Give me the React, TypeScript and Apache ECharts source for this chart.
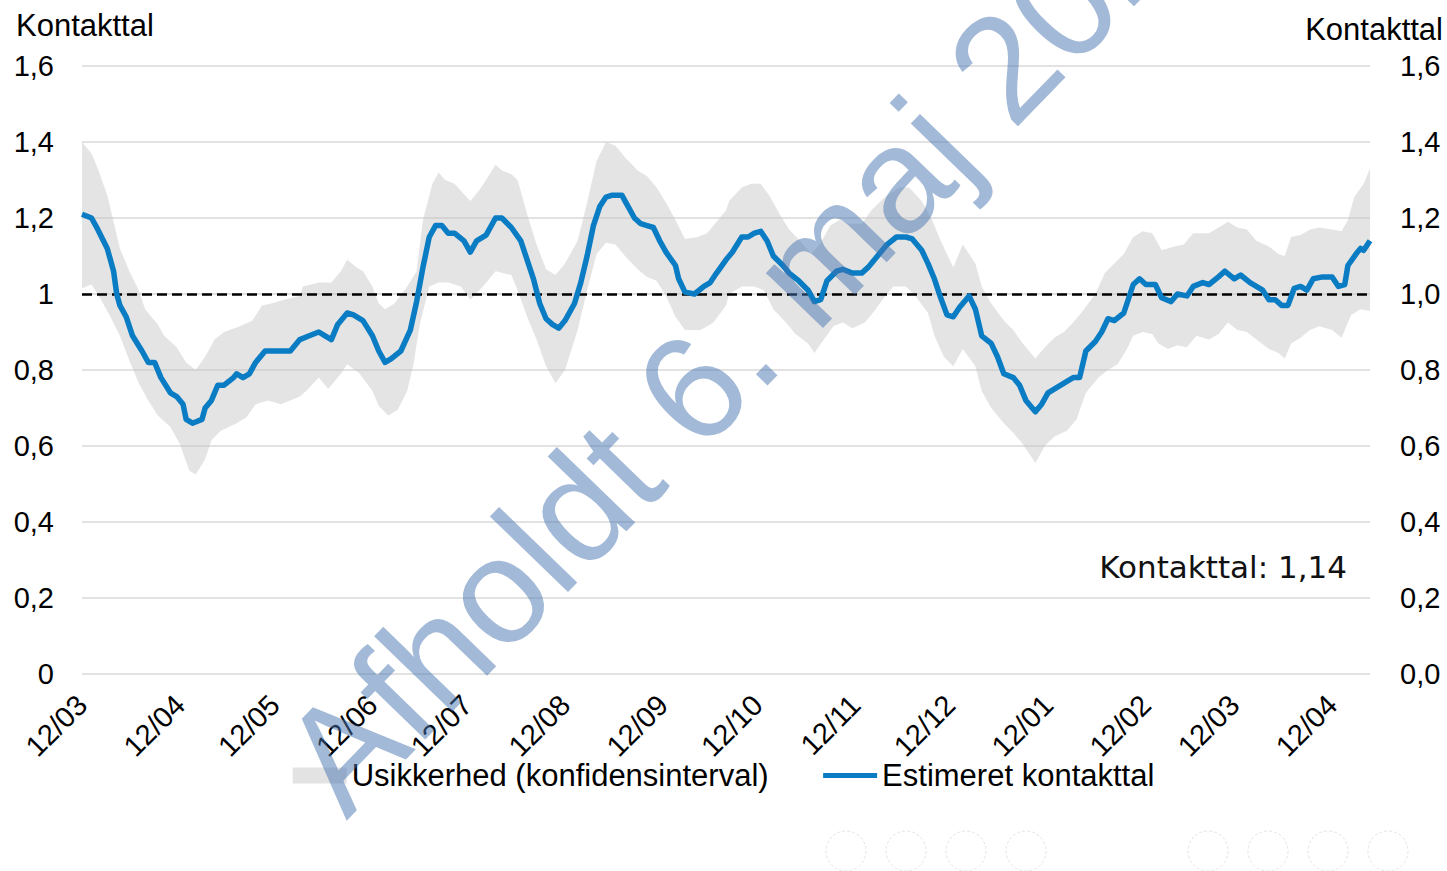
import React, { useEffect, useRef } from "react";
import * as echarts from "echarts";

// X positions are days counted from 12 March 2020
const tickDays = [0, 31, 61, 92, 122, 153, 184, 214, 245, 275, 306, 337, 365, 396];
const tickLabels = ["12/03", "12/04", "12/05", "12/06", "12/07", "12/08", "12/09", "12/10", "12/11", "12/12", "12/01", "12/02", "12/03", "12/04"];
const lastDay = 408;

const estimate: [number, number][] = [
  [0, 1.21], [3, 1.2], [5, 1.17], [8, 1.12], [10, 1.06], [11, 1.0], [12, 0.97], [14, 0.94], [16, 0.89], [19, 0.85],
  [21, 0.82], [23, 0.82], [25, 0.78], [28, 0.74], [30, 0.73], [32, 0.71], [33, 0.67], [35, 0.66], [38, 0.67], [39, 0.7],
  [41, 0.72], [43, 0.76], [45, 0.76], [48, 0.78], [49, 0.79], [51, 0.78], [53, 0.79], [55, 0.82], [58, 0.85], [62, 0.85],
  [66, 0.85], [69, 0.88], [72, 0.89], [75, 0.9], [77, 0.89], [79, 0.88], [81, 0.92], [84, 0.95], [86, 0.945], [89, 0.93],
  [92, 0.89], [94, 0.85], [96, 0.82], [98, 0.83], [101, 0.85], [104, 0.905], [106, 0.98], [108, 1.07], [110, 1.15], [112, 1.18],
  [114, 1.18], [116, 1.16], [118, 1.16], [121, 1.14], [123, 1.11], [125, 1.14], [128, 1.155], [131, 1.2], [133, 1.2], [136, 1.175],
  [139, 1.14], [141, 1.09], [143, 1.04], [145, 0.975], [147, 0.935], [149, 0.92], [151, 0.91], [153, 0.93], [156, 0.975], [158, 1.03],
  [160, 1.1], [162, 1.18], [164, 1.23], [166, 1.255], [168, 1.26], [171, 1.26], [173, 1.23], [175, 1.2], [177, 1.185], [179, 1.18],
  [181, 1.175], [183, 1.14], [185, 1.11], [188, 1.075], [189, 1.04], [191, 1.005], [194, 1.0], [197, 1.02], [199, 1.03], [201, 1.055],
  [204, 1.09], [206, 1.11], [209, 1.15], [211, 1.15], [213, 1.16], [215, 1.165], [217, 1.14], [219, 1.1], [222, 1.075], [224, 1.055],
  [227, 1.035], [230, 1.01], [232, 0.98], [234, 0.985], [236, 1.035], [239, 1.06], [241, 1.065], [244, 1.055], [247, 1.055], [249, 1.07],
  [252, 1.1], [255, 1.13], [258, 1.15], [261, 1.15], [263, 1.145], [266, 1.115], [268, 1.08], [270, 1.04], [272, 0.99], [274, 0.945],
  [276, 0.94], [278, 0.965], [281, 0.995], [283, 0.96], [285, 0.89], [288, 0.87], [290, 0.835], [292, 0.79], [295, 0.78], [297, 0.76],
  [299, 0.72], [302, 0.69], [304, 0.71], [306, 0.74], [309, 0.755], [312, 0.77], [314, 0.78], [316, 0.78], [318, 0.85], [321, 0.875],
  [323, 0.9], [325, 0.935], [327, 0.93], [330, 0.95], [332, 1.0], [333, 1.025], [335, 1.04], [337, 1.025], [340, 1.025], [342, 0.99],
  [345, 0.98], [347, 1.0], [350, 0.995], [352, 1.02], [355, 1.03], [357, 1.025], [360, 1.045], [362, 1.06], [365, 1.04], [367, 1.05],
  [370, 1.03], [372, 1.02], [374, 1.01], [376, 0.985], [378, 0.985], [380, 0.97], [382, 0.97], [384, 1.015], [386, 1.02], [388, 1.01],
  [390, 1.04], [393, 1.045], [396, 1.045], [398, 1.02], [400, 1.025], [401, 1.075], [404, 1.11], [405, 1.12], [406, 1.115], [408, 1.14],
];

const upperBand: [number, number][] = [
  [0, 1.4], [3, 1.37], [5, 1.33], [8, 1.26], [10, 1.19], [12, 1.12], [15, 1.06], [18, 1.01], [20, 0.96], [24, 0.92],
  [26, 0.89], [30, 0.86], [33, 0.82], [36, 0.8], [39, 0.835], [42, 0.88], [45, 0.9], [50, 0.915], [54, 0.93], [57, 0.97],
  [60, 0.975], [64, 0.985], [69, 0.995], [70, 1.02], [75, 1.03], [79, 1.03], [82, 1.06], [84, 1.09], [87, 1.07], [89, 1.06],
  [92, 1.02], [94, 0.975], [96, 0.96], [99, 0.975], [103, 1.02], [106, 1.06], [108, 1.195], [111, 1.29], [113, 1.32], [115, 1.3],
  [118, 1.29], [123, 1.245], [126, 1.275], [128, 1.3], [131, 1.34], [133, 1.325], [136, 1.315], [138, 1.3], [141, 1.21], [144, 1.13],
  [147, 1.065], [150, 1.05], [153, 1.08], [157, 1.14], [160, 1.24], [163, 1.35], [166, 1.4], [169, 1.39], [172, 1.36], [176, 1.325],
  [179, 1.31], [182, 1.28], [185, 1.24], [188, 1.195], [191, 1.145], [195, 1.15], [198, 1.16], [201, 1.19], [204, 1.22], [205, 1.245],
  [209, 1.28], [212, 1.29], [215, 1.29], [218, 1.255], [221, 1.21], [224, 1.17], [228, 1.135], [231, 1.105], [234, 1.135], [237, 1.18],
  [240, 1.195], [243, 1.185], [247, 1.185], [250, 1.22], [253, 1.245], [256, 1.265], [259, 1.28], [262, 1.28], [266, 1.245], [269, 1.2],
  [272, 1.14], [276, 1.07], [279, 1.13], [283, 1.08], [285, 1.02], [288, 0.975], [292, 0.93], [295, 0.905], [298, 0.87], [302, 0.83],
  [305, 0.86], [308, 0.885], [311, 0.9], [314, 0.925], [317, 0.955], [321, 1.0], [324, 1.055], [327, 1.08], [330, 1.105], [333, 1.15],
  [336, 1.165], [339, 1.16], [342, 1.115], [346, 1.125], [349, 1.13], [352, 1.16], [357, 1.16], [360, 1.175], [363, 1.19], [366, 1.175],
  [369, 1.17], [372, 1.14], [376, 1.125], [379, 1.105], [381, 1.1], [383, 1.15], [386, 1.155], [389, 1.17], [392, 1.175], [396, 1.17],
  [399, 1.165], [401, 1.195], [403, 1.255], [406, 1.29], [408, 1.33],
];

const lowerBand: [number, number][] = [
  [0, 1.015], [3, 1.025], [5, 1.0], [9, 0.94], [12, 0.89], [15, 0.825], [18, 0.765], [21, 0.72], [24, 0.68], [28, 0.65],
  [31, 0.605], [34, 0.535], [36, 0.525], [39, 0.565], [41, 0.615], [44, 0.64], [49, 0.66], [52, 0.675], [55, 0.71], [59, 0.72],
  [63, 0.71], [69, 0.73], [71, 0.745], [75, 0.78], [78, 0.75], [82, 0.79], [84, 0.815], [88, 0.79], [92, 0.745], [94, 0.705],
  [97, 0.68], [100, 0.695], [103, 0.745], [105, 0.815], [107, 0.92], [110, 1.02], [113, 1.03], [116, 1.03], [120, 1.02], [123, 0.985],
  [127, 1.02], [131, 1.06], [136, 1.05], [138, 1.01], [141, 0.94], [144, 0.88], [147, 0.81], [150, 0.765], [153, 0.8], [157, 0.905],
  [160, 1.01], [163, 1.105], [166, 1.135], [169, 1.13], [172, 1.1], [176, 1.065], [179, 1.045], [182, 1.035], [185, 0.995], [188, 0.94],
  [191, 0.905], [196, 0.905], [200, 0.925], [204, 0.97], [205, 1.0], [209, 1.02], [213, 1.02], [216, 1.01], [219, 0.96], [223, 0.925],
  [226, 0.895], [230, 0.87], [232, 0.845], [235, 0.88], [238, 0.915], [241, 0.925], [244, 0.91], [248, 0.925], [251, 0.955], [254, 0.99],
  [257, 1.02], [261, 1.02], [264, 0.995], [268, 0.95], [270, 0.89], [273, 0.835], [276, 0.81], [279, 0.855], [283, 0.81], [285, 0.745],
  [288, 0.7], [292, 0.66], [295, 0.635], [298, 0.605], [302, 0.555], [305, 0.6], [308, 0.625], [312, 0.64], [315, 0.67], [318, 0.74],
  [322, 0.78], [325, 0.8], [328, 0.815], [331, 0.855], [333, 0.89], [336, 0.9], [339, 0.895], [341, 0.87], [344, 0.855], [347, 0.865],
  [350, 0.86], [353, 0.89], [357, 0.88], [360, 0.895], [363, 0.925], [366, 0.905], [369, 0.9], [372, 0.88], [376, 0.855], [379, 0.845],
  [381, 0.83], [383, 0.87], [386, 0.885], [389, 0.905], [392, 0.915], [396, 0.905], [399, 0.885], [402, 0.945], [405, 0.96], [408, 0.955],
];

const thresholdValue = 1;
const axisTitle = "Kontakttal";
const bandName = "Usikkerhed (konfidensinterval)";
const lineName = "Estimeret kontakttal";
const currentNote = "Kontakttal: 1,14";
const watermarkText = "Afholdt 6. maj 2021";

const FONT = "'Liberation Sans', Arial, sans-serif";
const LINE_COLOR = "#0a7cc3";
const BAND_COLOR = "rgba(195,195,195,0.45)";

const decoCircles = [846, 906, 966, 1026, 1208, 1268, 1328, 1388];

export default function App() {
  const ref = useRef<HTMLDivElement>(null);

  useEffect(() => {
    document.body.style.margin = "0";
    const chart = echarts.init(ref.current!, null, { renderer: "svg" });
    const rot = (46 * Math.PI) / 180;

    const option: any = {
      animation: false,
      backgroundColor: "#ffffff",
      grid: { left: 82, right: 77, top: 66, bottom: 197 },
      legend: {
        top: 755,
        left: "center",
        itemWidth: 54,
        itemHeight: 16,
        itemGap: 52,
        textStyle: { fontFamily: FONT, fontSize: 31, color: "#000" },
        data: [
          { name: bandName, icon: "rect", itemStyle: { color: "#e3e3e3" } },
          { name: lineName, itemStyle: { opacity: 0 }, lineStyle: { width: 5, color: LINE_COLOR } },
        ],
      },
      xAxis: {
        type: "value",
        min: 0,
        max: lastDay,
        splitLine: { show: false },
        axisLine: { show: false },
        axisTick: { show: false },
        axisLabel: {
          customValues: tickDays,
          rotate: 45,
          margin: 26,
          fontFamily: FONT,
          fontSize: 29,
          color: "#000",
          showMinLabel: true,
          showMaxLabel: true,
          formatter: (v: number) => {
            const i = tickDays.indexOf(Math.round(v));
            return i >= 0 ? tickLabels[i] : "";
          },
        },
      },
      yAxis: [
        {
          type: "value",
          min: 0,
          max: 1.6,
          interval: 0.2,
          axisLine: { show: false },
          axisTick: { show: false },
          splitLine: { lineStyle: { color: "#d9d9d9", width: 1.5 } },
          axisLabel: {
            margin: 28,
            fontFamily: FONT,
            fontSize: 29,
            color: "#000",
            formatter: (v: number) => String(Math.round(v * 10) / 10).replace(".", ","),
          },
        },
        {
          type: "value",
          min: 0,
          max: 1.6,
          interval: 0.2,
          position: "right",
          axisLine: { show: false },
          axisTick: { show: false },
          splitLine: { show: false },
          axisLabel: {
            margin: 30,
            fontFamily: FONT,
            fontSize: 29,
            color: "#000",
            formatter: (v: number) => v.toFixed(1).replace(".", ","),
          },
        },
      ],
      series: [
        {
          name: bandName,
          type: "custom",
          xAxisIndex: 0,
          yAxisIndex: 0,
          itemStyle: { color: "#e3e3e3" },
          data: upperBand,
          encode: { x: 0, y: 1 },
          z: 1,
          renderItem: (params: any, api: any) => {
            if (params.dataIndex !== 0) return null;
            const pts = upperBand
              .map((p) => api.coord(p))
              .concat(lowerBand.slice().reverse().map((p) => api.coord(p)));
            return { type: "polygon", shape: { points: pts }, style: { fill: BAND_COLOR } };
          },
        },
        {
          name: lineName,
          type: "line",
          xAxisIndex: 0,
          yAxisIndex: 0,
          data: estimate,
          showSymbol: false,
          symbol: "none",
          z: 3,
          lineStyle: { color: LINE_COLOR, width: 5.5, join: "round" },
          itemStyle: { color: LINE_COLOR },
          markLine: {
            silent: true,
            symbol: "none",
            label: { show: false },
            lineStyle: { color: "#000", type: [10, 5], width: 2.5 },
            data: [{ yAxis: thresholdValue }],
            z: 2,
          },
        },
      ],
      graphic: [
        {
          type: "text",
          left: 16,
          top: 10,
          style: { text: axisTitle, fontFamily: FONT, fontSize: 31, fill: "#000" },
        },
        {
          type: "text",
          right: 4,
          top: 14,
          style: { text: axisTitle, fontFamily: FONT, fontSize: 31, fill: "#000" },
        },
        {
          type: "text",
          x: 1347,
          y: 567,
          style: {
            text: currentNote,
            fontFamily: "'DejaVu Sans', sans-serif",
            fontSize: 31,
            fill: "#111",
            align: "right",
            verticalAlign: "middle",
          },
        },
        ...decoCircles.map((cx) => ({
          type: "circle",
          shape: { cx, cy: 851, r: 20 },
          style: { fill: "#fff", stroke: "#e4e4e4", lineWidth: 1, lineDash: [3, 2] },
          silent: true,
        })),
        {
          type: "text",
          x: 363,
          y: 837,
          rotation: rot,
          z: 100,
          silent: true,
          style: {
            text: watermarkText,
            fontFamily: FONT,
            fontSize: 150,
            fill: "rgba(70,115,175,0.5)",
            align: "left",
            verticalAlign: "bottom",
          },
        },
      ],
    };

    chart.setOption(option);
    return () => chart.dispose();
  }, []);

  return (
    <div
      ref={ref}
      style={{ width: 1447, height: 871, position: "absolute", left: 0, top: 0 }}
    />
  );
}
